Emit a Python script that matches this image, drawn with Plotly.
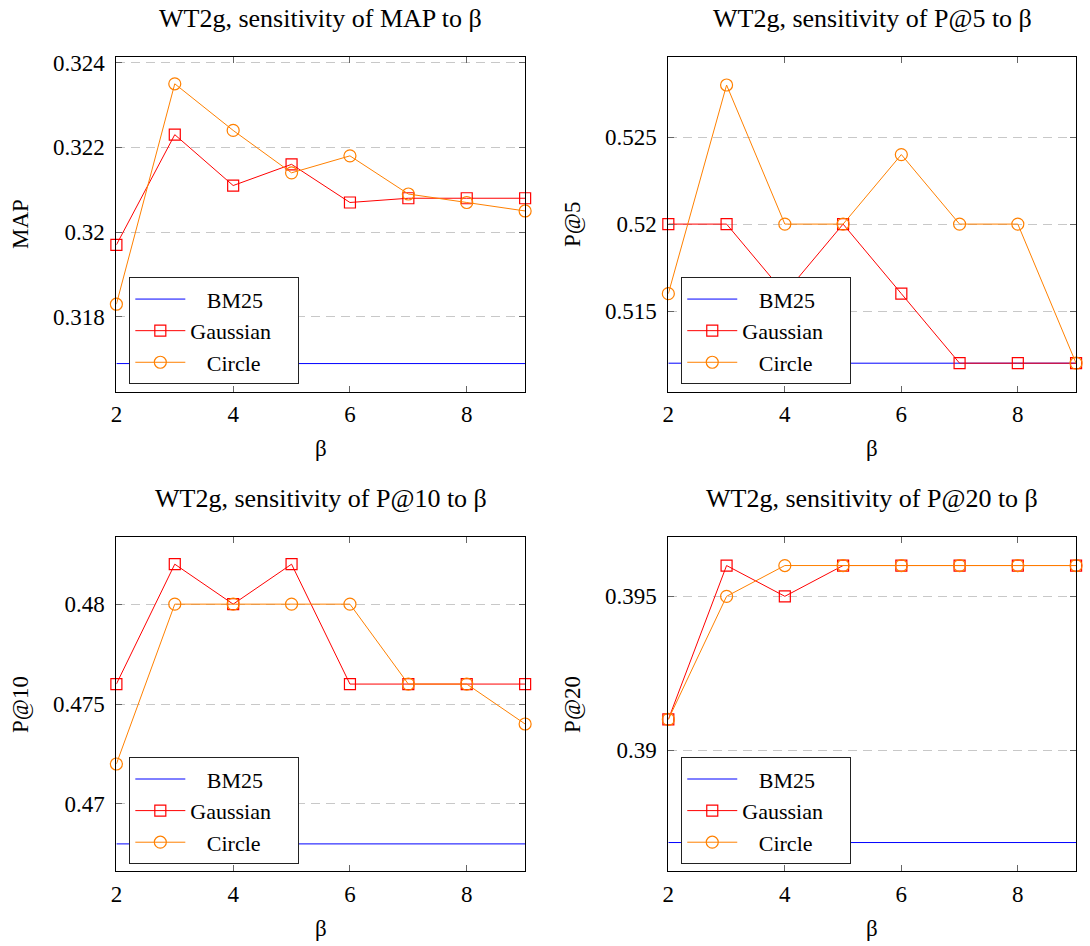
import plotly.graph_objects as go

beta = [2, 3, 4, 5, 6, 7, 8, 9]

metrics = ["MAP", "P@5", "P@10", "P@20"]

bm25 = {"MAP": 0.3169, "P@5": 0.512, "P@10": 0.468, "P@20": 0.387}

gaussian_map = [0.3197, 0.3223, 0.3211, 0.3216, 0.3207, 0.3208, 0.3208, 0.3208]
circle_map = [0.3183, 0.3235, 0.3224, 0.3214, 0.3218, 0.3209, 0.3207, 0.3205]

gaussian_p5 = [0.520, 0.520, 0.516, 0.520, 0.516, 0.512, 0.512, 0.512]
circle_p5 = [0.516, 0.528, 0.520, 0.520, 0.524, 0.520, 0.520, 0.512]

gaussian_p10 = [0.476, 0.482, 0.480, 0.482, 0.476, 0.476, 0.476, 0.476]
circle_p10 = [0.472, 0.480, 0.480, 0.480, 0.480, 0.476, 0.476, 0.474]

gaussian_p20 = [0.391, 0.396, 0.395, 0.396, 0.396, 0.396, 0.396, 0.396]
circle_p20 = [0.391, 0.395, 0.396, 0.396, 0.396, 0.396, 0.396, 0.396]

y_ticks = {
    "MAP": ([0.318, 0.320, 0.322, 0.324], ["0.318", "0.32", "0.322", "0.324"]),
    "P@5": ([0.515, 0.520, 0.525], ["0.515", "0.52", "0.525"]),
    "P@10": ([0.470, 0.475, 0.480], ["0.47", "0.475", "0.48"]),
    "P@20": ([0.390, 0.395], ["0.39", "0.395"]),
}
y_ranges = {
    "MAP": [0.31624, 0.32414],
    "P@5": [0.51037, 0.52963],
    "P@10": [0.46662, 0.48338],
    "P@20": [0.38606, 0.39694],
}

series = {
    "MAP": (gaussian_map, circle_map),
    "P@5": (gaussian_p5, circle_p5),
    "P@10": (gaussian_p10, circle_p10),
    "P@20": (gaussian_p20, circle_p20),
}

W, H = 1090, 946
FONT = "Liberation Serif"
FS = 23
LFS = 22
OX, OY = -4, -4  # page offset compensation

# pixel boxes of plot areas: (x0, x1, ytop, ybottom)
boxes = {
    "MAP": (115, 526, 55, 392),
    "P@5": (670, 1080, 55, 392),
    "P@10": (115, 526, 538, 875),
    "P@20": (670, 1080, 538, 875),
}

BLUE = "#0000ff"
RED = "#ff0000"
ORANGE = "#ff8000"
PAD = "\u00a0\u00a0\u00a0"
PAD_R = "\u00a0\u00a0\u00a0\u00a0"

fig = go.Figure()
annotations = []
layout = {}

for i, m in enumerate(metrics):
    idx = "" if i == 0 else str(i + 1)
    xa, ya = "x" + idx, "y" + idx
    lg = "legend" + idx
    g, c = series[m]
    fig.add_trace(go.Scatter(
        x=[beta[0], beta[-1]], y=[bm25[m], bm25[m]], mode="lines", name=PAD + "BM25",
        line=dict(color=BLUE, width=1), xaxis=xa, yaxis=ya, legend=lg, cliponaxis=False))
    fig.add_trace(go.Scatter(
        x=beta, y=g, mode="lines+markers", name="Gaussian" + PAD_R,
        line=dict(color=RED, width=1),
        marker=dict(symbol="square-open", size=11, color=RED, line=dict(width=1.2)),
        xaxis=xa, yaxis=ya, legend=lg, cliponaxis=False))
    fig.add_trace(go.Scatter(
        x=beta, y=c, mode="lines+markers", name=PAD + "Circle",
        line=dict(color=ORANGE, width=1),
        marker=dict(symbol="circle-open", size=12, color=ORANGE, line=dict(width=1.2)),
        xaxis=xa, yaxis=ya, legend=lg, cliponaxis=False))

    x0, x1, yt, yb = boxes[m]
    x0, x1, yt, yb = x0 + OX, x1 + OX, yt + OY, yb + OY
    dx = [x0 / W, x1 / W]
    dy = [1 - yb / H, 1 - yt / H]
    ax_common = dict(
        showline=True, linecolor="black", linewidth=1, mirror="ticks",
        ticks="inside", ticklen=6, tickcolor="#666666", tickwidth=1,
        tickfont=dict(family=FONT, size=FS, color="black"), zeroline=False,
    )
    layout["xaxis" + idx] = dict(
        domain=dx, range=[2, 9], tickvals=[2, 4, 6, 8], showgrid=False,
        anchor=ya, ticklabelstandoff=2, **ax_common)
    tv, tt = y_ticks[m]
    layout["yaxis" + idx] = dict(
        domain=dy, range=y_ranges[m], tickvals=tv, ticktext=tt,
        showgrid=True, gridcolor="#c8c8c8", griddash="9px,6px", gridwidth=1,
        anchor=xa, ticklabelstandoff=6, **ax_common)
    layout[lg] = dict(
        x=(x0 + 13) / W, y=1 - (yt + 222) / H, xanchor="left", yanchor="top",
        bgcolor="white", bordercolor="#222222", borderwidth=1,
        font=dict(family=FONT, size=LFS, color="black"), tracegroupgap=0,
        itemwidth=50,
    )
    cx = (x0 + x1) / 2 / W
    annotations.append(dict(
        text=f"WT2g, sensitivity of {m} to \u03b2", x=cx, y=1 - (yt - 38) / H,
        xref="paper", yref="paper", showarrow=False, xanchor="center", yanchor="middle",
        font=dict(family=FONT, size=26, color="black")))
    annotations.append(dict(
        text="\u03b2", x=cx, y=1 - (yb + 57) / H,
        xref="paper", yref="paper", showarrow=False, xanchor="center", yanchor="middle",
        font=dict(family=FONT, size=FS, color="black")))
    annotations.append(dict(
        text=m, x=(x0 - 97) / W, y=1 - (yt + yb) / 2 / H, textangle=-90,
        xref="paper", yref="paper", showarrow=False, xanchor="center", yanchor="middle",
        font=dict(family=FONT, size=FS, color="black")))

fig.update_layout(
    width=W, height=H, margin=dict(l=0, r=0, t=0, b=0),
    paper_bgcolor="white", plot_bgcolor="white",
    annotations=annotations, showlegend=True, **layout)

fig.write_html(
    "out.html",
    config={"displayModeBar": False},
    post_script="document.body.style.margin='0';document.body.style.padding='0';"
                "document.documentElement.style.overflow='hidden';",
)
